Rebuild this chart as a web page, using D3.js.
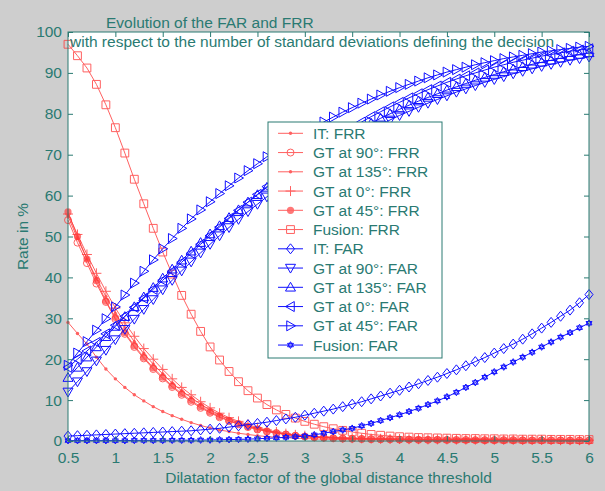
<!DOCTYPE html>
<html><head><meta charset="utf-8">
<script src="https://cdn.jsdelivr.net/npm/d3@7/dist/d3.min.js"></script>
<style>body{margin:0;background:#cecece;}svg{display:block;font-family:"Liberation Sans",Arial,sans-serif;}</style>
</head><body><svg id="c" width="605" height="491"></svg>
<script>
const xs = [0.5,0.6,0.7,0.8,0.9,1.0,1.1,1.2,1.3,1.4,1.5,1.6,1.7,1.8,1.9,2.0,2.1,2.2,2.3,2.4,2.5,2.6,2.7,2.8,2.9,3.0,3.1,3.2,3.3,3.4,3.5,3.6,3.7,3.8,3.9,4.0,4.1,4.2,4.3,4.4,4.5,4.6,4.7,4.8,4.9,5.0,5.1,5.2,5.3,5.4,5.5,5.6,5.7,5.8,5.9,6.0];
const xTicks = [0.5,1,1.5,2,2.5,3,3.5,4,4.5,5,5.5,6];
const xTickLabels = ["0.5","1","1.5","2","2.5","3","3.5","4","4.5","5","5.5","6"];
const yTicks = [0,10,20,30,40,50,60,70,80,90,100];

const itFRR = [29,26.3,23.7,20.5,17.6,15.2,13.1,11.3,9.8,8.4,7.2,6.2,5.3,4.5,3.8,3.2,2.7,2.3,1.9,1.6,1.3,1.1,0.9,0.8,0.7,0.6,0.5,0.45,0.4,0.35,0.3,0.3,0.25,0.25,0.2,0.2,0.2,0.15,0.15,0.15,0.1,0.1,0.1,0.1,0.1,0.1,0.1,0.1,0.1,0.1,0.1,0.1,0.1,0.1,0.1,0.1];
const gt90FRR = [54,48.5,43.5,38.5,34,29.8,26.2,23,20.2,17.6,15.3,13.2,11.3,9.6,8.1,6.9,5.8,4.9,4.1,3.4,2.8,2.3,1.9,1.6,1.3,1.1,0.9,0.8,0.7,0.6,0.55,0.5,0.45,0.4,0.4,0.35,0.35,0.3,0.3,0.3,0.25,0.25,0.25,0.2,0.2,0.2,0.2,0.2,0.15,0.15,0.15,0.15,0.15,0.1,0.1,0.1];
const gt135FRR = [55,49.5,44.5,39.8,35.3,31.2,27.6,24.3,21.4,18.8,16.4,14.2,12.3,10.6,9.0,7.6,6.4,5.4,4.5,3.7,3.1,2.5,2.1,1.7,1.4,1.2,1.0,0.9,0.8,0.7,0.6,0.55,0.5,0.45,0.45,0.4,0.4,0.35,0.35,0.35,0.3,0.3,0.3,0.3,0.25,0.25,0.25,0.25,0.2,0.2,0.2,0.2,0.2,0.2,0.15,0.15];
const gt0FRR = [55.5,50.5,45.6,41,36.6,32.5,28.9,25.6,22.6,20,17.5,15.2,13.1,11.3,9.6,8.1,6.8,5.7,4.8,4.0,3.3,2.7,2.2,1.8,1.5,1.3,1.1,1.0,0.9,0.8,0.7,0.65,0.6,0.55,0.5,0.5,0.45,0.45,0.4,0.4,0.4,0.35,0.35,0.35,0.3,0.3,0.3,0.3,0.25,0.25,0.25,0.25,0.2,0.2,0.2,0.2];
const gt45FRR = [56,50,44.5,39.2,34.2,30.2,26.5,23.3,20.5,17.9,15.6,13.5,11.6,9.9,8.4,7.1,6.0,5.0,4.2,3.5,2.9,2.4,2.0,1.6,1.3,1.1,0.9,0.8,0.7,0.6,0.55,0.5,0.45,0.4,0.4,0.35,0.35,0.3,0.3,0.3,0.3,0.25,0.25,0.25,0.2,0.2,0.2,0.2,0.2,0.15,0.15,0.15,0.15,0.15,0.1,0.1];
const fusionFRR = [97,94.2,91.2,87.2,82.2,76.6,70.4,64.0,58.0,52.0,46.2,40.8,35.6,31.0,26.8,23.0,19.8,17.0,14.5,12.3,10.5,8.9,7.6,6.5,5.6,4.8,4.1,3.5,3.0,2.6,2.2,1.9,1.6,1.4,1.2,1.05,0.95,0.85,0.8,0.75,0.7,0.65,0.6,0.6,0.55,0.55,0.5,0.5,0.45,0.45,0.45,0.4,0.4,0.4,0.35,0.35];
const itFAR = [1.2,1.3,1.4,1.5,1.6,1.7,1.8,1.9,2.0,2.1,2.2,2.3,2.4,2.5,2.7,2.9,3.1,3.4,3.7,4.0,4.3,4.6,5.0,5.4,5.8,6.3,6.8,7.3,7.8,8.4,9.0,9.6,10.3,11.0,11.7,12.4,13.2,14.0,14.8,15.6,16.5,17.4,18.4,19.4,20.4,21.5,22.6,23.7,24.9,26.2,27.6,29.0,30.5,32.0,33.8,35.8];
const gt90FAR = [12.0,14.5,17.0,19.6,22.2,24.8,27.3,29.8,32.2,34.6,37.0,39.3,41.6,43.8,46.0,48.1,50.2,52.2,54.2,56.1,57.9,59.7,61.4,63.1,64.8,66.4,68.0,69.5,70.9,72.3,73.6,74.9,76.1,77.3,78.5,79.6,80.6,81.6,82.6,83.5,84.4,85.3,86.1,86.9,87.7,88.4,89.1,89.8,90.4,91.0,91.6,92.1,92.6,93.1,93.5,93.9];
const gt135FAR = [15.5,18.0,20.5,23.0,25.5,28.0,30.4,32.8,35.2,37.5,39.8,42.0,44.2,46.4,48.5,50.6,52.6,54.6,56.5,58.4,60.2,62.0,63.7,65.3,66.9,68.4,69.9,71.3,72.7,74.0,75.3,76.5,77.7,78.9,80.0,81.1,82.1,83.1,84.0,84.9,85.8,86.6,87.4,88.2,88.9,89.6,90.3,90.9,91.5,92.1,92.6,93.1,93.6,94.1,94.5,94.9];
const gt0FAR = [18.0,20.0,22.0,24.1,26.2,28.3,30.5,32.7,34.9,37.1,39.3,41.5,43.7,45.9,48.1,50.2,52.3,54.4,56.4,58.4,60.3,62.2,64.0,65.8,67.6,69.3,70.9,72.4,73.9,75.3,76.7,78.0,79.3,80.5,81.7,82.8,83.9,84.9,85.9,86.8,87.7,88.5,89.3,90.0,90.7,91.4,92.0,92.6,93.1,93.6,94.1,94.5,94.9,95.3,95.6,95.9];
const gt45FAR = [18.5,21.5,24.3,27.1,29.9,32.8,35.7,38.6,41.5,44.3,47.0,49.5,52.0,54.3,56.5,58.5,60.5,62.4,64.3,66.1,67.8,69.5,71.1,72.6,74.0,75.4,76.7,78.0,79.2,80.4,81.5,82.6,83.6,84.6,85.5,86.4,87.2,88.0,88.8,89.5,90.2,90.8,91.4,92.0,92.5,93.0,93.5,93.9,94.3,94.7,95.1,95.4,95.7,96.0,96.3,96.5];
const fusionFAR = [0.1,0.1,0.1,0.1,0.1,0.1,0.1,0.15,0.15,0.15,0.15,0.2,0.2,0.2,0.25,0.25,0.3,0.35,0.4,0.45,0.55,0.65,0.75,0.9,1.05,1.2,1.5,1.9,2.3,2.7,3.1,3.7,4.3,5.0,5.7,6.4,7.2,8.0,8.9,9.8,10.8,11.9,13.1,14.3,15.6,16.9,18.1,19.3,20.5,21.7,23.0,24.2,25.4,26.5,27.7,28.8];

const seriesNames = ["IT: FRR","GT at 90°: FRR","GT at 135°: FRR","GT at 0°: FRR","GT at 45°: FRR","Fusion: FRR","IT: FAR","GT at 90°: FAR","GT at 135°: FAR","GT at 0°: FAR","GT at 45°: FAR","Fusion: FAR"];
const seriesValues = [itFRR,gt90FRR,gt135FRR,gt0FRR,gt45FRR,fusionFRR,itFAR,gt90FAR,gt135FAR,gt0FAR,gt45FAR,fusionFAR];
const seriesMarkers = ["dot","circle","dot","plus","bigdot","square","diamond","tdown","tup","tleft","tright","hexagram"];
const seriesColors = ["red","red","red","red","red","red","blue","blue","blue","blue","blue","blue"];

const INK = "#2a7a72";
const RED = "#ff3a3a";
const BLUE = "#1010ff";
const L = 68, R = 589, T = 32, B = 441;
const svg = d3.select("#c");
svg.append("rect").attr("width",605).attr("height",491).attr("fill","#cecece");
svg.append("rect").attr("x",L).attr("y",T).attr("width",R-L).attr("height",B-T).attr("fill","#fff");

const x = d3.scaleLinear().domain([0.5,6]).range([L,R]);
const y = d3.scaleLinear().domain([0,100]).range([B,T]);

function markerPath(type, s){
  switch(type){
    case "tup": return `M0,${-s}L${s},${s*0.75}L${-s},${s*0.75}Z`;
    case "tdown": return `M0,${s}L${s},${-s*0.75}L${-s},${-s*0.75}Z`;
    case "tleft": return `M${-s},0L${s*0.75},${-s}L${s*0.75},${s}Z`;
    case "tright": return `M${s},0L${-s*0.75},${-s}L${-s*0.75},${s}Z`;
    case "diamond": return `M0,${-s}L${s*0.8},0L0,${s}L${-s*0.8},0Z`;
    case "square": return `M${-s*0.85},${-s*0.85}H${s*0.85}V${s*0.85}H${-s*0.85}Z`;
    case "plus": return `M${-s},0H${s}M0,${-s}V${s}`;
    case "hexagram": {
      const a = s*0.85, h = a*0.5, w = a*0.866;
      return `M0,${-a}L${w},${h}L${-w},${h}ZM0,${a}L${w},${-h}L${-w},${-h}Z`;
    }
  }
  return "";
}
function drawMarker(g, type, cx, cy, col){
  if(type==="dot"){ g.append("circle").attr("cx",cx).attr("cy",cy).attr("r",1.7).attr("fill",col); return; }
  if(type==="bigdot"){ g.append("circle").attr("cx",cx).attr("cy",cy).attr("r",3.6).attr("fill",col).attr("opacity",0.85); return; }
  if(type==="circle"){ g.append("circle").attr("cx",cx).attr("cy",cy).attr("r",3.5).attr("fill","none").attr("stroke",col); return; }
  const s = type==="hexagram" ? 4 : (type==="square" ? 4.6 : 5);
  g.append("path").attr("d",markerPath(type,s)).attr("transform",`translate(${cx},${cy})`)
    .attr("fill","none").attr("stroke",col).attr("stroke-width",1);
}

const plot = svg.append("g");
const line = d3.line().x((d,i)=>x(xs[i])).y(d=>y(d));
seriesValues.forEach((vals,k)=>{
  const col = seriesColors[k]==="red" ? RED : BLUE;
  const g = plot.append("g").attr("opacity", seriesColors[k]==="red" ? 0.8 : 1);
  g.append("path").datum(vals).attr("d",line).attr("fill","none").attr("stroke",col).attr("stroke-width",1);
  vals.forEach((v,i)=>drawMarker(g, seriesMarkers[k], x(xs[i]), y(v), col));
});

// axes
const fs = "15.5px";
const ax = svg.append("g").attr("transform",`translate(0,${B})`)
  .call(d3.axisBottom(x).tickValues(xTicks).tickFormat((d,i)=>xTickLabels[i]).tickSizeInner(-5).tickSizeOuter(0).tickPadding(11));
const ay = svg.append("g").attr("transform",`translate(${L},0)`)
  .call(d3.axisLeft(y).tickValues(yTicks).tickSizeInner(-5).tickSizeOuter(0).tickPadding(6));
const axT = svg.append("g").attr("transform",`translate(0,${T})`)
  .call(d3.axisTop(x).tickValues(xTicks).tickFormat("").tickSizeInner(-5).tickSizeOuter(0));
const ayR = svg.append("g").attr("transform",`translate(${R},0)`)
  .call(d3.axisRight(y).tickValues(yTicks).tickFormat("").tickSizeInner(-5).tickSizeOuter(0));
[ax,ay,axT,ayR].forEach(a=>{
  a.select(".domain").remove();
  a.selectAll("line").attr("stroke",INK);
  a.selectAll("text").attr("fill",INK).style("font-size",fs).style("font-family","Liberation Sans, Arial, sans-serif");
});
svg.append("rect").attr("x",L).attr("y",T).attr("width",R-L).attr("height",B-T).attr("fill","none").attr("stroke",INK).attr("stroke-width",1);

// labels
svg.append("text").attr("x",(L+R)/2).attr("y",483).attr("text-anchor","middle").attr("fill",INK).style("font-size",fs)
  .text("Dilatation factor of the global distance threshold");
svg.append("text").attr("transform","translate(28,236.5) rotate(-90)").attr("text-anchor","middle").attr("fill",INK).style("font-size",fs)
  .text("Rate in %");
svg.append("text").attr("x",106).attr("y",28).attr("fill",INK).style("font-size",fs).text("Evolution of the FAR and FRR");
svg.append("text").attr("x",70).attr("y",47).attr("fill",INK).style("font-size",fs).text("with respect to the number of standard deviations defining the decision");

// legend
const lg = svg.append("g");
lg.append("rect").attr("x",268).attr("y",122).attr("width",174).attr("height",236).attr("fill","#fff").attr("stroke",INK);
seriesNames.forEach((name,k)=>{
  const cy = 133.3 + k*19.25;
  const col = seriesColors[k]==="red" ? RED : BLUE;
  const g = lg.append("g").attr("opacity", seriesColors[k]==="red" ? 0.8 : 1);
  g.append("line").attr("x1",278).attr("x2",303).attr("y1",cy).attr("y2",cy).attr("stroke",col);
  drawMarker(g, seriesMarkers[k], 290.5, cy, col);
  lg.append("text").attr("x",313).attr("y",cy+5.5).attr("fill",INK).style("font-size",fs).text(name);
});
</script></body></html>
